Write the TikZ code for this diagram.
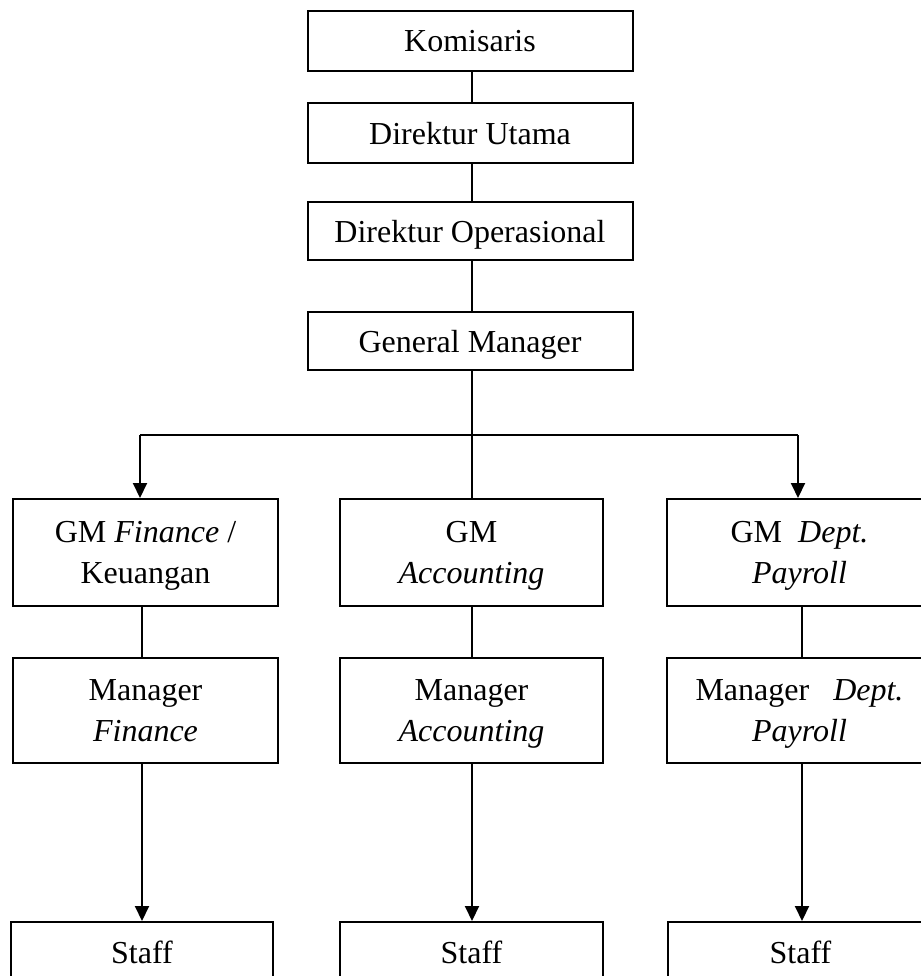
\documentclass[tikz,border=0pt]{standalone}
\usepackage{fontspec}
\setmainfont{Liberation Serif}
\usetikzlibrary{arrows.meta}
\begin{document}
\begin{tikzpicture}[x=1pt,y=1pt,
  box/.style={draw, line width=2pt, rectangle, inner sep=0pt, align=center,
    text depth=0pt, font=\fontsize{32}{41.5}\selectfont},
  link/.style={line width=2pt},
  arr/.style={line width=2pt, -{Triangle[length=15pt,width=14pt]}}]
\useasboundingbox (0,0) rectangle (920,-976);
% top chain
\node[box, minimum width=325pt, minimum height=60pt] (kom) at (470,-41) {Komisaris};
\node[box, minimum width=325pt, minimum height=60pt] (du) at (470,-133) {Direktur Utama};
\node[box, minimum width=325pt, minimum height=58pt] (do) at (470,-231) {Direktur Operasional};
\node[box, minimum width=325pt, minimum height=58pt] (gm) at (470,-341) {General Manager};
% GM row
\node[box, minimum width=265pt, minimum height=107pt] (gmf) at (145.5,-552.5) {GM \textit{Finance} /\\Keuangan};
\node[box, minimum width=263pt, minimum height=107pt] (gma) at (471.5,-552.5) {GM\\\textit{Accounting}};
\node[box, minimum width=265pt, minimum height=107pt] (gmp) at (799.5,-552.5) {GM\ \ \textit{Dept.}\\\textit{Payroll}};
% Manager row
\node[box, minimum width=265pt, minimum height=105pt] (mf) at (145.5,-710.5) {Manager\\\textit{Finance}};
\node[box, minimum width=263pt, minimum height=105pt] (ma) at (471.5,-710.5) {Manager\\\textit{Accounting}};
\node[box, minimum width=265pt, minimum height=105pt] (mp) at (799.5,-710.5) {Manager\ \ \ \textit{Dept.}\\\textit{Payroll}};
% Staff row
\node[box, minimum width=262pt, minimum height=60pt] (sf) at (142,-952) {Staff};
\node[box, minimum width=263pt, minimum height=60pt] (sa) at (471.5,-952) {Staff};
\node[box, minimum width=265pt, minimum height=60pt] (sp) at (800.5,-952) {Staff};
% connectors top
\draw[link] (kom.south -| 472,0) -- (du.north -| 472,0);
\draw[link] (du.south -| 472,0) -- (do.north -| 472,0);
\draw[link] (do.south -| 472,0) -- (gm.north -| 472,0);
\coordinate (j) at (472,-435);
\coordinate (jl) at (140,-435);
\coordinate (jr) at (798,-435);
\draw[link] (gm.south -| 472,0) -- (j);
\draw[link] (jl) -- (jr);
\draw[link] (j) -- (gma.north -| j);
\draw[arr] (jl) -- (gmf.north -| jl);
\draw[arr] (jr) -- (gmp.north -| jr);
% GM to manager
\draw[link] (gmf.south -| 142,0) -- (mf.north -| 142,0);
\draw[link] (gma.south -| 472,0) -- (ma.north -| 472,0);
\draw[link] (gmp.south -| 802,0) -- (mp.north -| 802,0);
% manager to staff
\draw[arr] (mf.south -| 142,0) -- (sf.north -| 142,0);
\draw[arr] (ma.south -| 472,0) -- (sa.north -| 472,0);
\draw[arr] (mp.south -| 802,0) -- (sp.north -| 802,0);
\end{tikzpicture}
\end{document}
